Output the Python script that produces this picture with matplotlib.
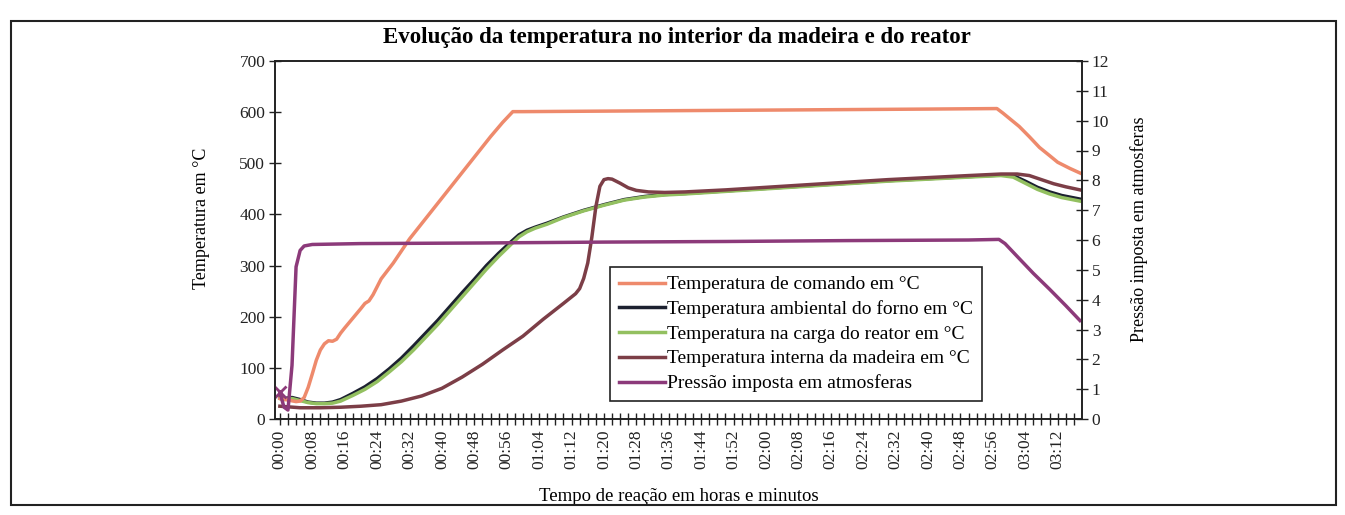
import matplotlib
matplotlib.use("Agg")
import matplotlib.pyplot as plt
from matplotlib.patches import Rectangle

plt.rcParams['font.family'] = ['Liberation Serif', 'DejaVu Serif']

# time in minutes from the start of the run
t_cmd = [0, 2, 4, 5, 6, 7, 8, 9, 10, 11, 12, 13, 14, 15, 16, 18, 20, 21, 22, 23,
         25, 28, 32, 36, 40, 44, 48, 52, 55, 57.5, 60, 80, 100, 120, 140, 160,
         177, 178.5, 180.5, 182.5, 185, 187.5, 190, 192, 195, 197.5]
temp_cmd = [40, 37, 34, 35, 42, 62, 88, 115, 135, 147, 153, 152, 156, 168, 178, 197, 216, 226, 231, 243,
            274, 305, 352, 392, 432, 472, 512, 552, 580, 601, 601, 602, 603, 604, 605, 606,
            607, 598, 585, 572, 552, 531, 515, 502, 490, 481]

# furnace ambient and reactor load share the same sampling times
t_furn = [0, 1, 3, 5, 7, 9, 11, 13, 15, 18, 21, 24, 27, 30, 33, 36, 39, 42, 45, 48,
          51, 54, 57, 59, 61, 63, 66, 70, 75, 80, 85, 90, 95, 100, 110, 120, 130, 140,
          150, 160, 170, 178, 181, 184, 187, 190, 193, 197.5]
temp_amb = [42, 40, 42, 38, 33, 31, 31, 33, 38, 50, 63, 79, 98, 119, 143, 168, 193, 220, 247, 273,
            300, 324, 346, 360, 369, 375, 383, 395, 408, 419, 429, 435, 439, 441, 446, 451, 456, 461,
            466, 470, 474, 477, 476, 465, 453, 444, 437, 430]
temp_load = [40, 38, 40, 36, 32, 30, 30, 31, 35, 46, 58, 73, 92, 112, 135, 160, 185, 212, 239, 266,
             293, 318, 341, 356, 366, 373, 381, 394, 407, 418, 428, 434, 438, 440, 445, 450, 455, 460,
             465, 469, 473, 476, 473, 461, 449, 440, 433, 426]

t_wood = [0, 5, 10, 15, 20, 25, 30, 35, 40, 45, 50, 55, 60, 65, 70, 73, 74, 75, 76, 77,
          78, 79, 80, 81, 82, 84, 86, 88, 91, 95, 100, 110, 120, 130, 140, 150, 160, 170,
          178, 182, 185, 188, 191, 194, 197.5]
temp_wood = [25, 22, 22, 23, 25, 28, 35, 45, 60, 82, 107, 135, 162, 195, 226, 245, 255, 275, 305, 355,
             415, 455, 468, 470, 469, 461, 452, 447, 444, 443, 444, 448, 453, 458, 463, 468, 472, 476,
             479, 479, 476, 468, 460, 454, 448]

t_pres = [0, 1, 2, 3, 4, 5, 6, 8, 20, 50, 80, 110, 140, 170, 177.5, 179, 182, 186, 190, 194, 197.5]
pres = [0.9, 0.4, 0.3, 1.8, 5.1, 5.65, 5.8, 5.85, 5.88, 5.9, 5.93, 5.95, 5.98, 6.0, 6.02, 5.88,
        5.45, 4.88, 4.35, 3.8, 3.3]

tick_minutes = [0, 8, 16, 24, 32, 40, 48, 56, 64, 72, 80, 88, 96, 104, 112, 120,
                128, 136, 144, 152, 160, 168, 176, 184, 192]
tick_labels = ['00:00', '00:08', '00:16', '00:24', '00:32', '00:40', '00:48', '00:56',
               '01:04', '01:12', '01:20', '01:28', '01:36', '01:44', '01:52', '02:00',
               '02:08', '02:16', '02:24', '02:32', '02:40', '02:48', '02:56', '03:04', '03:12']

labels = ['Temperatura de comando em °C',
          'Temperatura ambiental do forno em °C',
          'Temperatura na carga do reator em °C',
          'Temperatura interna da madeira em °C',
          'Pressão imposta em atmosferas']
colors = ['#EE8A6C', '#1C2130', '#93C060', '#7C3E47', '#8C3A7A']

W, H = 1345, 515
fig = plt.figure(figsize=(W / 100, H / 100), dpi=100)
ax = fig.add_axes([275 / W, 1 - 419 / H, 807 / W, 358 / H])
ax2 = ax.twinx()

lw = 2.5
h_amb, = ax.plot(t_furn, temp_amb, color=colors[1], lw=lw, label=labels[1])
h_load, = ax.plot(t_furn, temp_load, color=colors[2], lw=lw, label=labels[2])
h_wood, = ax.plot(t_wood, temp_wood, color=colors[3], lw=lw, label=labels[3])
h_cmd, = ax.plot(t_cmd, temp_cmd, color=colors[0], lw=lw, label=labels[0])
h_pres, = ax2.plot(t_pres, pres, color=colors[4], lw=lw, label=labels[4])
ax2.plot(t_pres[:1], pres[:1], marker='x', ms=9, mew=2, color=colors[4], ls='none')

ax.set_xlim(-1.2, 198)
ax.set_ylim(0, 700)
ax2.set_ylim(0, 12)
ax.set_yticks(range(0, 701, 100))
ax2.set_yticks(range(0, 13))
ax.set_xticks(tick_minutes)
ax.set_xticklabels(tick_labels, rotation=90)
ax.set_xticks(range(0, 198, 2), minor=True)

for a in (ax, ax2):
    a.tick_params(which='both', direction='inout', length=8, width=1, labelsize=12.5,
                  colors='#222222')
    for s in a.spines.values():
        s.set_linewidth(1.2)
        s.set_color('#222222')
ax.tick_params(axis='y', pad=3)
ax2.tick_params(axis='y', pad=3)

ax.set_xlabel('Tempo de reação em horas e minutos', fontsize=13.5, labelpad=14)
ax.set_ylabel('Temperatura em °C', fontsize=13)
ax.yaxis.set_label_coords(-0.08, 0.56)
ax2.set_ylabel('Pressão imposta em atmosferas', fontsize=13)
ax2.yaxis.set_label_coords(1.06, 0.53)

fig.text(0.503, 1 - 38 / H, 'Evolução da temperatura no interior da madeira e do reator',
         ha='center', va='center', fontsize=16.5, fontweight='bold')

leg = ax2.legend(handles=[h_cmd, h_amb, h_load, h_wood, h_pres], loc='lower left',
                 bbox_to_anchor=(0.415, 0.05), borderaxespad=0, fontsize=14,
                 handlelength=2.4, handletextpad=0.1, labelspacing=0.36,
                 fancybox=False, framealpha=1, edgecolor='#222222', borderpad=0.45)
leg.get_frame().set_linewidth(1.2)

fig.patches.append(Rectangle((0.008, 0.02), 0.985, 0.94, transform=fig.transFigure,
                             fill=False, lw=1.5, edgecolor='#222222'))

fig.savefig('out.png', dpi=100, facecolor='white')
